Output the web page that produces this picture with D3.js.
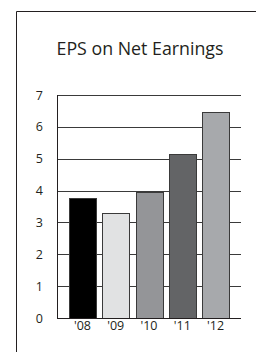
<!DOCTYPE html>
<html>
<head>
<meta charset="utf-8">
<script src="https://d3js.org/d3.v7.min.js"></script>
<style>
  body { margin: 0; background: #fff; }
  text { font-family: "Open Sans", "DejaVu Sans", sans-serif; fill: #231f20; }
</style>
</head>
<body>
<script>
  // chart data
  var years = ["'08", "'09", "'10", "'11", "'12"];
  var eps = [3.76, 3.29, 3.97, 5.15, 6.48];
  var barColors = ["#000000", "#e1e2e3", "#949598", "#636466", "#a7a9ac"];
  var yTicks = [0, 1, 2, 3, 4, 5, 6, 7];

  var W = 256, H = 352;
  var margin = {top: 95, right: 15, bottom: 34, left: 57};
  var width = W - margin.left - margin.right,
      height = H - margin.top - margin.bottom;

  var svg = d3.select("body").append("svg")
      .attr("width", W)
      .attr("height", H);

  // frame (top + left only)
  svg.append("path")
      .attr("d", "M16.5," + H + "V11.5H" + W)
      .attr("fill", "none")
      .attr("stroke", "#231f20")
      .attr("stroke-width", 1);

  svg.append("text")
      .attr("x", 140)
      .attr("y", 55)
      .attr("text-anchor", "middle")
      .attr("font-size", "17.8px")
      .text("EPS on Net Earnings");

  var g = svg.append("g")
      .attr("transform", "translate(" + margin.left + "," + margin.top + ")");

  var x = d3.scaleBand()
      .domain(years)
      .range([0, width])
      .paddingInner(0.19)
      .paddingOuter(0.36);

  var y = d3.scaleLinear()
      .domain([0, 7])
      .range([height, 0]);

  // gridlines
  g.selectAll(".grid")
      .data(yTicks.filter(function(d) { return d > 0; }))
    .enter().append("line")
      .attr("class", "grid")
      .attr("x1", 0)
      .attr("x2", width)
      .attr("y1", function(d) { return Math.round(y(d)) + 0.5; })
      .attr("y2", function(d) { return Math.round(y(d)) + 0.5; })
      .attr("stroke", "#3a3a3a")
      .attr("stroke-width", 1);

  // bars
  g.selectAll(".bar")
      .data(eps)
    .enter().append("rect")
      .attr("class", "bar")
      .attr("x", function(d, i) { return Math.round(x(years[i])) + 0.5; })
      .attr("width", Math.round(x.bandwidth()))
      .attr("y", function(d) { return Math.round(y(d)) + 0.5; })
      .attr("height", function(d) { return Math.round(height - y(d)); })
      .attr("fill", function(d, i) { return barColors[i]; })
      .attr("stroke", "#3a3a3a")
      .attr("stroke-width", 1);

  // y axis
  var yAxis = g.append("g")
      .call(d3.axisLeft(y).tickValues(yTicks).tickFormat(d3.format("d")).tickSize(0).tickPadding(14));
  yAxis.select(".domain").attr("stroke", "#231f20").attr("d", "M0.5,0V" + (height + 0.5));
  yAxis.selectAll("text").attr("font-size", "12.5px").attr("fill", "#231f20");

  // x axis
  var xAxis = g.append("g")
      .attr("transform", "translate(0," + height + ")")
      .call(d3.axisBottom(x).tickSize(0).tickPadding(3));
  xAxis.select(".domain").attr("stroke", "#231f20").attr("d", "M0,0.5H" + width);
  xAxis.selectAll("text").attr("font-size", "12.5px").attr("fill", "#231f20");
</script>
</body>
</html>
